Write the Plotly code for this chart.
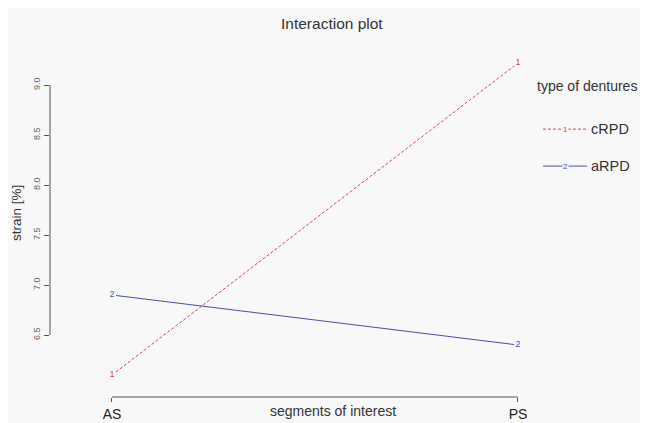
import plotly.graph_objects as go

segments = ["AS", "PS"]
x_pos = [1, 2]
crpd = [6.10, 9.22]
arpd = [6.90, 6.40]
series_names = ["cRPD", "aRPD"]
series_labels = ["1", "2"]
y_ticks = [6.5, 7.0, 7.5, 8.0, 8.5, 9.0]

bg = "#f8f8f8"
red = "#cc4a4a"
blue = "#4c4ca0"
font = "Liberation Sans, Arial, sans-serif"
dash_red = "3px,2px"

fig = go.Figure()
for vals, name, lab, col, dash in [(crpd, series_names[0], series_labels[0], red, dash_red),
                                    (arpd, series_names[1], series_labels[1], blue, "solid")]:
    fig.add_trace(go.Scatter(
        x=x_pos, y=vals, mode="lines+markers+text", name=name,
        text=[lab] * len(vals), textposition="middle center",
        textfont=dict(family=font, size=9, color=col),
        line=dict(color=col, width=1, dash=dash),
        marker=dict(symbol="square", size=8, color=bg, line=dict(width=0)),
        showlegend=False, cliponaxis=False,
    ))

# legend drawn manually
leg_y = [0.761, 0.656]
for ly, name, lab, col, dash in [(leg_y[0], series_names[0], series_labels[0], red, dash_red),
                                  (leg_y[1], series_names[1], series_labels[1], blue, "solid")]:
    fig.add_shape(type="line", xref="paper", yref="paper", x0=1.027, x1=1.119, y0=ly, y1=ly,
                  line=dict(color=col, width=1, dash=dash))
    fig.add_annotation(xref="paper", yref="paper", x=1.073, y=ly, text=lab, showarrow=False,
                       xanchor="center", yanchor="middle",
                       font=dict(family=font, size=8, color=col), bgcolor=bg, borderpad=0)
    fig.add_annotation(xref="paper", yref="paper", x=1.123, y=ly, text=name, showarrow=False,
                       xanchor="left", yanchor="middle",
                       font=dict(family=font, size=14.5, color="#333"))
fig.add_annotation(xref="paper", yref="paper", x=1.0104, y=0.8835, text="type of dentures",
                   showarrow=False, xanchor="left", yanchor="middle",
                   font=dict(family=font, size=14, color="#333"))

# R-style axis lines
fig.add_shape(type="line", xref="paper", yref="y", x0=0, x1=0, y0=y_ticks[0], y1=y_ticks[-1],
              line=dict(color="#555", width=1))
fig.add_shape(type="line", xref="x", yref="paper", x0=x_pos[0], x1=x_pos[-1], y0=0, y1=0,
              line=dict(color="#555", width=1))

fig.add_annotation(xref="paper", yref="paper", x=0.59, y=-0.012, xanchor="center", yanchor="top",
                   text="segments of interest", showarrow=False,
                   font=dict(family=font, size=14, color="#333"))
fig.add_annotation(xref="paper", yref="paper", x=-0.06875, y=0.523, xanchor="center",
                   yanchor="middle", textangle=-90,
                   text="strain [%]", showarrow=False,
                   font=dict(family=font, size=13.5, color="#333"))
fig.add_annotation(xref="paper", yref="paper", x=0.5875, y=1.06, xanchor="center",
                   yanchor="middle", text="Interaction plot", showarrow=False,
                   font=dict(family=font, size=15.5, color="#333"))

fig.update_layout(
    width=648, height=423,
    margin=dict(l=42, r=126, t=37, b=34),
    paper_bgcolor=bg, plot_bgcolor=bg,
    xaxis=dict(range=[0.8473, 2.0296], tickvals=x_pos, ticktext=segments, automargin=False,
               showgrid=False, zeroline=False, showline=False,
               ticks="outside", ticklen=4, tickcolor="#555",
               tickfont=dict(family=font, size=14, color="#222")),
    yaxis=dict(range=[5.88, 9.40], tickvals=y_ticks, ticktext=[f"{v:.1f}" for v in y_ticks],
               automargin=False,
               showgrid=False, zeroline=False, showline=False,
               ticks="outside", ticklen=5, tickcolor="#555", tickangle=-90,
               tickfont=dict(family=font, size=9, color="#666")),
)

fig.write_html("out.html")
